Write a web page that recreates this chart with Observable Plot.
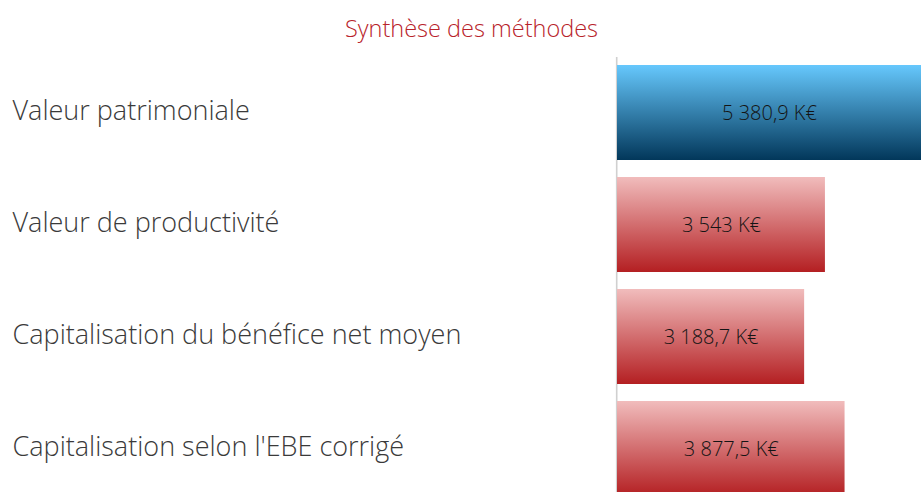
<!DOCTYPE html>
<html>
<head>
<meta charset="utf-8">
<script src="https://cdn.jsdelivr.net/npm/d3@7"></script>
<script src="https://cdn.jsdelivr.net/npm/@observablehq/plot@0.6"></script>
<style>
  html, body { margin: 0; padding: 0; background: #fff; overflow: hidden; }
  #wrap { position: relative; width: 921px; height: 492px; }
  #title { position: absolute; left: 0; top: 13px; width: 943px; text-align: center;
           font-family: "Open Sans", sans-serif; font-weight: 300; font-size: 23.5px; color: #b8232a; line-height: 30px; }
  #chart { position: absolute; left: 0; top: 50px; }
</style>
</head>
<body>
<div id="wrap">
  <div id="title">Synthèse des méthodes</div>
  <div id="chart"></div>
</div>
<script>
const categories = ["Valeur patrimoniale", "Valeur de productivité", "Capitalisation du bénéfice net moyen", "Capitalisation selon l'EBE corrigé"];
const values = [5380.9, 3543, 3188.7, 3877.5];
const valueLabels = ["5 380,9 K€", "3 543 K€", "3 188,7 K€", "3 877,5 K€"];
const highlighted = ["Valeur patrimoniale"];

const xMax = 5180;
const data = categories.map((c, i) => ({category: c, value: values[i], label: valueLabels[i]}));

const defs = () => {
  const d = d3.create("svg:defs");
  const g1 = d.append("linearGradient").attr("id", "gBlue").attr("x1", 0).attr("y1", 0).attr("x2", 0).attr("y2", 1);
  g1.append("stop").attr("offset", "0%").attr("stop-color", "#66c8fd");
  g1.append("stop").attr("offset", "100%").attr("stop-color", "#02375a");
  const g2 = d.append("linearGradient").attr("id", "gRed").attr("x1", 0).attr("y1", 0).attr("x2", 0).attr("y2", 1);
  g2.append("stop").attr("offset", "0%").attr("stop-color", "#f1bcbc");
  g2.append("stop").attr("offset", "100%").attr("stop-color", "#b41f22");
  return d.node();
};

const chart = Plot.plot({
  width: 921,
  height: 455,
  marginLeft: 617,
  marginRight: 0,
  marginTop: 7,
  marginBottom: 0,
  x: {domain: [0, xMax], axis: null},
  y: {domain: categories, range: [6.5, 454.5], paddingInner: 0.152, paddingOuter: 0.076, axis: null},
  marks: [
    defs,
    Plot.ruleX([0], {dx: -0.8, stroke: "#d0d0d0", strokeWidth: 1.6}),
    Plot.barX(data.filter(d => highlighted.includes(d.category)), {x: "value", y: "category", fill: "url(#gBlue)", clip: true}),
    Plot.barX(data.filter(d => !highlighted.includes(d.category)), {x: "value", y: "category", fill: "url(#gRed)", clip: true}),
    Plot.text(data, {x: d => Math.min(d.value, xMax) / 2, y: "category", text: "label", dy: 1,
      fontFamily: "Open Sans", fontWeight: 300, fontSize: 20, fill: "#141414"}),
    Plot.text(data, {y: "category", text: "category", frameAnchor: "left", dx: -605, dy: -2, textAnchor: "start",
      fontFamily: "Open Sans", fontWeight: 300, fontSize: 27, fill: "#3a3a3a"})
  ]
});
document.getElementById("chart").appendChild(chart);
</script>
</body>
</html>
